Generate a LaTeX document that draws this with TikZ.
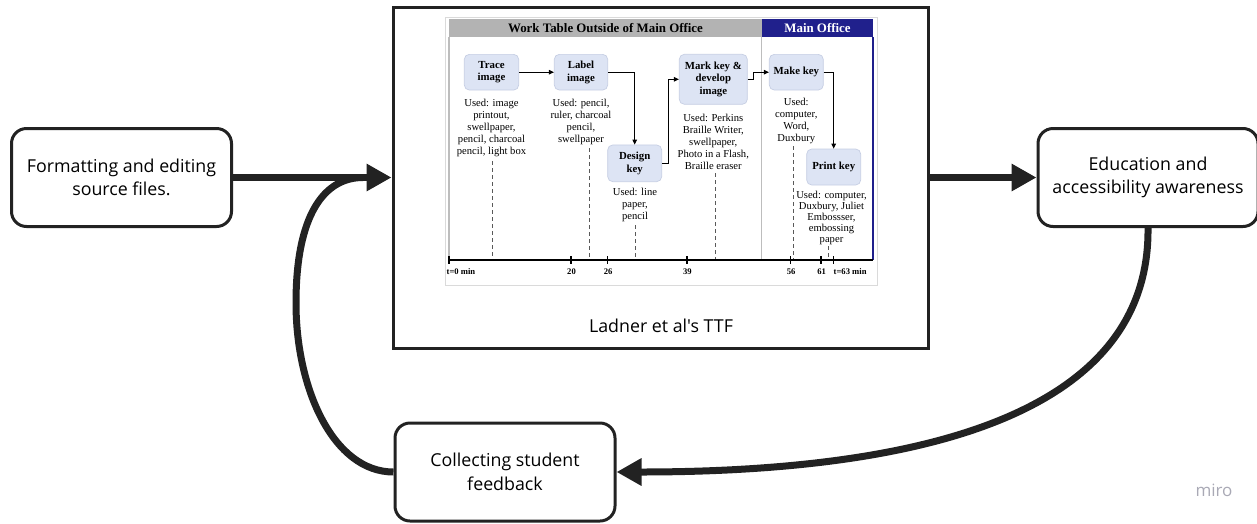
\documentclass[tikz,border=0pt]{standalone}
\usepackage{fontspec}
\setmainfont{Liberation Serif}
\newfontfamily\osans{Open Sans}
\usetikzlibrary{arrows.meta}

\definecolor{ink}{HTML}{222222}
\definecolor{boxfill}{HTML}{DDE4F4}
\definecolor{boxline}{HTML}{C6CEE3}
\definecolor{hdrgray}{HTML}{B3B3B3}
\definecolor{office}{HTML}{20208C}
\definecolor{sepgray}{HTML}{BDBDBD}
\definecolor{framegray}{HTML}{DADADA}
\definecolor{logogray}{HTML}{A9A9B5}

\tikzset{
  bigbox/.style={draw=ink, line width=3pt, rounded corners=15pt, fill=white,
    minimum width=220pt, minimum height=98pt, inner sep=0pt, align=center,
    font=\osans\fontsize{17.8}{23.5}\selectfont},
  flow/.style={draw=ink, line width=7pt, -{Triangle[length=25pt,width=26pt]}},
  loopline/.style={draw=ink, line width=7pt},
  taskbox/.style={draw=boxline, fill=boxfill, rounded corners=5pt, line width=0.7pt,
    inner sep=0pt, align=center, font=\bfseries\fontsize{10.8}{12.5}\selectfont},
  usedtext/.style={anchor=north, inner sep=0pt, align=center,
    font=\fontsize{10.6}{12}\selectfont},
  taskarrow/.style={draw=black, line width=1pt, -{Triangle[length=5pt,width=4.5pt]}},
  marker/.style={draw=black!65, line width=0.7pt, dash pattern=on 4pt off 3pt},
  header/.style={inner sep=0pt, minimum height=18pt, font=\bfseries\fontsize{12.9}{14}\selectfont},
  ticklabel/.style={inner sep=0pt, anchor=base, font=\bfseries\fontsize{8.6}{9}\selectfont},
}

\begin{document}
\begin{tikzpicture}[x=1pt, y=-1pt]
\useasboundingbox (0,0) rectangle (1257,523);

% outer cycle boxes
\node[bigbox] (src) at (121.5,177.5) {Formatting and editing\\source files.};
\node[bigbox] (edu) at (1148,177.5) {Education and\\accessibility awareness};
\node[bigbox] (fb) at (505,472) {Collecting student\\feedback};

% frame holding the timing figure
\node[draw=ink, line width=3pt, minimum width=535pt, minimum height=341pt, inner sep=0pt]
  (ttf) at (660.5,177.5) {};
\node[font=\osans\fontsize{17.8}{20}\selectfont, inner sep=0pt] (ttfcap) at (661,326) {Ladner et al's TTF};

% timing figure: frame, headers, regions
\draw[framegray, line width=0.8pt] (445.5,17) rectangle (877.5,285.5);
\node[header, fill=hdrgray, minimum width=313pt] (hwork) at (605.5,28) {Work Table Outside of Main Office};
\node[header, fill=office, text=white, minimum width=111.5pt] (hoffice) at (817.5,28) {Main Office};
\draw[sepgray, line width=1.3pt] (449,37) -- (449,260);
\draw[sepgray, line width=1.3pt] (761.8,37) -- (761.8,260);
\draw[office, line width=1.5pt] (873,37) -- (873,260);

% dashed markers down to the time axis
\draw[marker] (492.3,161) -- (492.3,259);
\draw[marker] (589.3,148) -- (589.3,259);
\draw[marker] (635.7,225) -- (635.7,259);
\draw[marker] (715,173) -- (715,259);
\draw[marker] (793.3,146) -- (793.3,259);
\draw[marker] (828.3,246) -- (828.3,259);

% tasks
\node[taskbox, minimum width=54.4pt, minimum height=35.7pt] (trace) at (491.5,72.2) {Trace\\image};
\node[taskbox, minimum width=53.4pt, minimum height=35.7pt] (label) at (581,72.2) {Label\\image};
\node[taskbox, minimum width=54pt, minimum height=36.7pt] (design) at (634.7,163.3) {Design\\key};
\node[taskbox, minimum width=68pt, minimum height=50pt] (mark) at (713.3,79.3) {Mark key \&\\develop\\image};
\node[taskbox, minimum width=54pt, minimum height=35.7pt] (make) at (796.3,72.2) {Make key};
\node[taskbox, minimum width=54pt, minimum height=36pt] (print) at (833.7,167) {Print key};

% materials used in each task
\node[usedtext] (utrace) at (491.5,99.3) {Used: image\\printout,\\swellpaper,\\pencil, charcoal\\pencil, light box};
\node[usedtext] (ulabel) at (581,99.3) {Used: pencil,\\ruler, charcoal\\pencil,\\swellpaper};
\node[usedtext] (udesign) at (635,188.3) {Used: line\\paper,\\pencil};
\node[usedtext] (umark) at (713.3,114.3) {Used: Perkins\\Braille Writer,\\swellpaper,\\Photo in a Flash,\\Braille eraser};
\node[usedtext] (umake) at (796.3,97.5) {Used:\\computer,\\Word,\\Duxbury};
\node[usedtext, font=\fontsize{10.6}{10.9}\selectfont] (uprint) at (831.5,191.3) {Used: computer,\\Duxbury, Juliet\\Embossser,\\embossing\\paper};

% task order
\draw[taskarrow] (trace.east) -- (label.west);
\draw[taskarrow] (label.east) -| (design.north);
\draw[taskarrow] (design.east) -- ++(6.5,0) |- (mark.west);
\draw[taskarrow] (mark.east) -- ++(6,0) |- (make.west);
\draw[taskarrow] (make.east) -| (print.north);

% time axis
\draw[black, line width=1.6pt] (449,260) -- (873,260);
\foreach \t in {0,20,26,39,56,61,63}
  \draw[black, line width=1.6pt] ({449+6.1*\t},256) -- ({449+6.1*\t},264);
\node[ticklabel, anchor=base west] at (446.5,274) {t=0 min};
\foreach \t in {20,26,39,56,61}
  \node[ticklabel] at ({449.5+6.1*\t},274) {\t};
\node[ticklabel, anchor=base west] at (833.5,274) {t=63 min};

% cycle connectors
\coordinate (join) at (363,177.5);
\draw[flow] (src.east) -- (ttf.west);
\draw[flow] (ttf.east) -- (edu.west);
\draw[flow] (edu.south) .. controls (1150,415) and (920,472) .. (fb.east);
\draw[loopline] (fb.west) .. controls (334,472) and (296,390) .. (296,303)
  .. controls (296,215) and (324,177.5) .. (join);

% board watermark
\node[font=\osans\fontsize{17}{19}\selectfont, text=logogray, inner sep=0pt] (logo) at (1214,490) {miro};
\end{tikzpicture}
\end{document}
